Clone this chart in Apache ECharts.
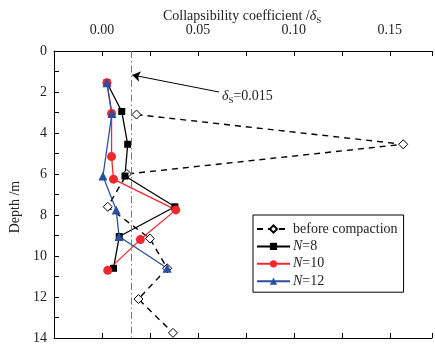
<!DOCTYPE html>
<html><head><meta charset="utf-8">
<script src="https://cdn.jsdelivr.net/npm/echarts@6/dist/echarts.min.js"></script>
<style>html,body{margin:0;padding:0;background:#fff}#c{width:435px;height:347px}</style>
</head><body><div id="c"></div>
<script>
// Data
const depthBefore = [3.1, 4.55, 6.0, 7.6, 9.15, 10.6, 12.1, 13.75];
const valBefore   = [0.018, 0.157, 0.013, 0.003, 0.025, 0.034, 0.019, 0.037];
const depthN8  = [1.55, 2.95, 4.55, 6.1, 7.6, 9.05, 10.6];
const valN8    = [0.0026, 0.0103, 0.0134, 0.012, 0.038, 0.009, 0.006];
const depthN10 = [1.55, 3.05, 5.15, 6.25, 7.75, 9.2, 10.7];
const valN10   = [0.0026, 0.005, 0.005, 0.006, 0.0385, 0.020, 0.003];
const depthN12 = [1.55, 3.05, 6.1, 7.75, 9.05, 10.6];
const valN12   = [0.0026, 0.0052, 0.0005, 0.0074, 0.0089, 0.034];
const threshold = 0.015;
const depthRange = [0, 14];
const arrowTail = [0.061, 2.0];
const arrowTip  = [0.0158, 1.17];
const labelPos  = [0.0625, 2.2];

const FONT = '"Liberation Serif","Times New Roman",serif';
const pair = (xs, ys) => xs.map((x, i) => [x, ys[i]]);
const chart = echarts.init(document.getElementById('c'));

const xBase = {
  type: 'value', min: -0.025, max: 0.172, interval: 0.025,
  axisLine: { show: true, onZero: false, lineStyle: { color: '#000', width: 1 } },
  axisTick: { show: true, inside: true, length: 5, lineStyle: { color: '#000' } },
  splitLine: { show: false }
};
const subRich = {
  it: { fontFamily: FONT, fontSize: 14, fontStyle: 'italic', fontWeight: 'normal', color: '#222' },
  n: { fontFamily: FONT, fontSize: 14, fontWeight: 'normal', color: '#222' },
  sub: { fontFamily: FONT, fontSize: 9, fontWeight: 'normal', color: '#222', padding: [9, 0, 0, 0] }
};

chart.setOption({
  animation: false,
  backgroundColor: '#fff',
  title: {
    text: '{n|Collapsibility coefficient /}{it|δ}{sub|S}',
    left: 158, top: 2,
    textStyle: { fontWeight: 'normal', rich: subRich }
  },
  grid: { left: 54, top: 51, right: 1, bottom: 9, containLabel: false },
  xAxis: [
    Object.assign({}, xBase, {
      position: 'top',
      axisLabel: {
        show: true, margin: 14, fontFamily: FONT, fontSize: 14, color: '#222',
        formatter: v => {
          const r = v / 0.05;
          return (v >= -1e-9 && Math.abs(r - Math.round(r)) < 1e-6) ? v.toFixed(2) : '';
        }
      }
    }),
    Object.assign({}, xBase, { position: 'bottom', axisLabel: { show: false } })
  ],
  yAxis: {
    type: 'value', inverse: true, min: 0, max: 14, interval: 2,
    name: 'Depth /m', nameLocation: 'middle', nameGap: 23,
    nameTextStyle: { fontFamily: FONT, fontSize: 14, color: '#222', padding: [0, 25, 0, 0] },
    axisLine: { show: true, onZero: false, lineStyle: { color: '#000', width: 1 } },
    axisTick: { show: true, inside: true, length: 5, lineStyle: { color: '#000' } },
    minorTick: { show: true, splitNumber: 2, length: 5, lineStyle: { color: '#000' } },
    axisLabel: { margin: 7, fontFamily: FONT, fontSize: 14, color: '#222' },
    splitLine: { show: false }
  },
  legend: {
    orient: 'vertical', left: 253, top: 215,
    backgroundColor: '#fff', borderColor: '#000', borderWidth: 1,
    padding: [7, 6, 4, 3], itemGap: 3.4, itemWidth: 33, itemHeight: 9,
    textStyle: {
      fontFamily: FONT, fontSize: 14, color: '#222', padding: [0, 0, 0, -2],
      rich: {
        it: { fontFamily: FONT, fontSize: 14, fontStyle: 'italic', color: '#222' },
        n: { fontFamily: FONT, fontSize: 14, color: '#222' }
      }
    },
    formatter: name => name.startsWith('N=') ? '{it|N}{n|' + name.slice(1) + '}' : name,
    data: ['before compaction', 'N=8', 'N=10', 'N=12']
  },
  series: [
    {
      name: 'before compaction', type: 'line', data: pair(valBefore, depthBefore),
      symbol: 'diamond', symbolSize: 9,
      lineStyle: { color: '#000', width: 1.4, type: [6, 5] },
      itemStyle: { color: '#fff', borderColor: '#000', borderWidth: 1 },
      markLine: {
        silent: true, symbol: 'none', animation: false,
        label: { show: false },
        lineStyle: { color: '#777', width: 1, type: [7, 3, 1.5, 3] },
        data: [[{ coord: [threshold, depthRange[0]] }, { coord: [threshold, depthRange[1]] }]]
      }
    },
    {
      name: 'N=8', type: 'line', data: pair(valN8, depthN8),
      symbol: 'rect', symbolSize: 7,
      lineStyle: { color: '#000', width: 1.3 }, itemStyle: { color: '#000' }
    },
    {
      name: 'N=10', type: 'line', data: pair(valN10, depthN10),
      symbol: 'circle', symbolSize: 9,
      lineStyle: { color: '#f0282d', width: 1.3 }, itemStyle: { color: '#f0282d' }
    },
    {
      name: 'N=12', type: 'line', data: pair(valN12, depthN12),
      symbol: 'triangle', symbolSize: 9,
      lineStyle: { color: '#2b4ea2', width: 1.3 }, itemStyle: { color: '#2b4ea2' },
      markLine: {
        silent: true, symbol: ['none', 'arrow'], symbolSize: 8, animation: false,
        label: { show: false },
        lineStyle: { color: '#000', width: 1, type: 'solid' },
        data: [[{ coord: arrowTail }, { coord: arrowTip }]]
      },
      markPoint: {
        silent: true, symbol: 'circle', symbolSize: 0, animation: false,
        data: [{ coord: labelPos, value: 0 }],
        label: {
          show: true, position: 'right', distance: 0,
          formatter: '{it|δ}{sub|S}{n|=0.015}', rich: subRich
        }
      }
    }
  ]
});
</script></body></html>
